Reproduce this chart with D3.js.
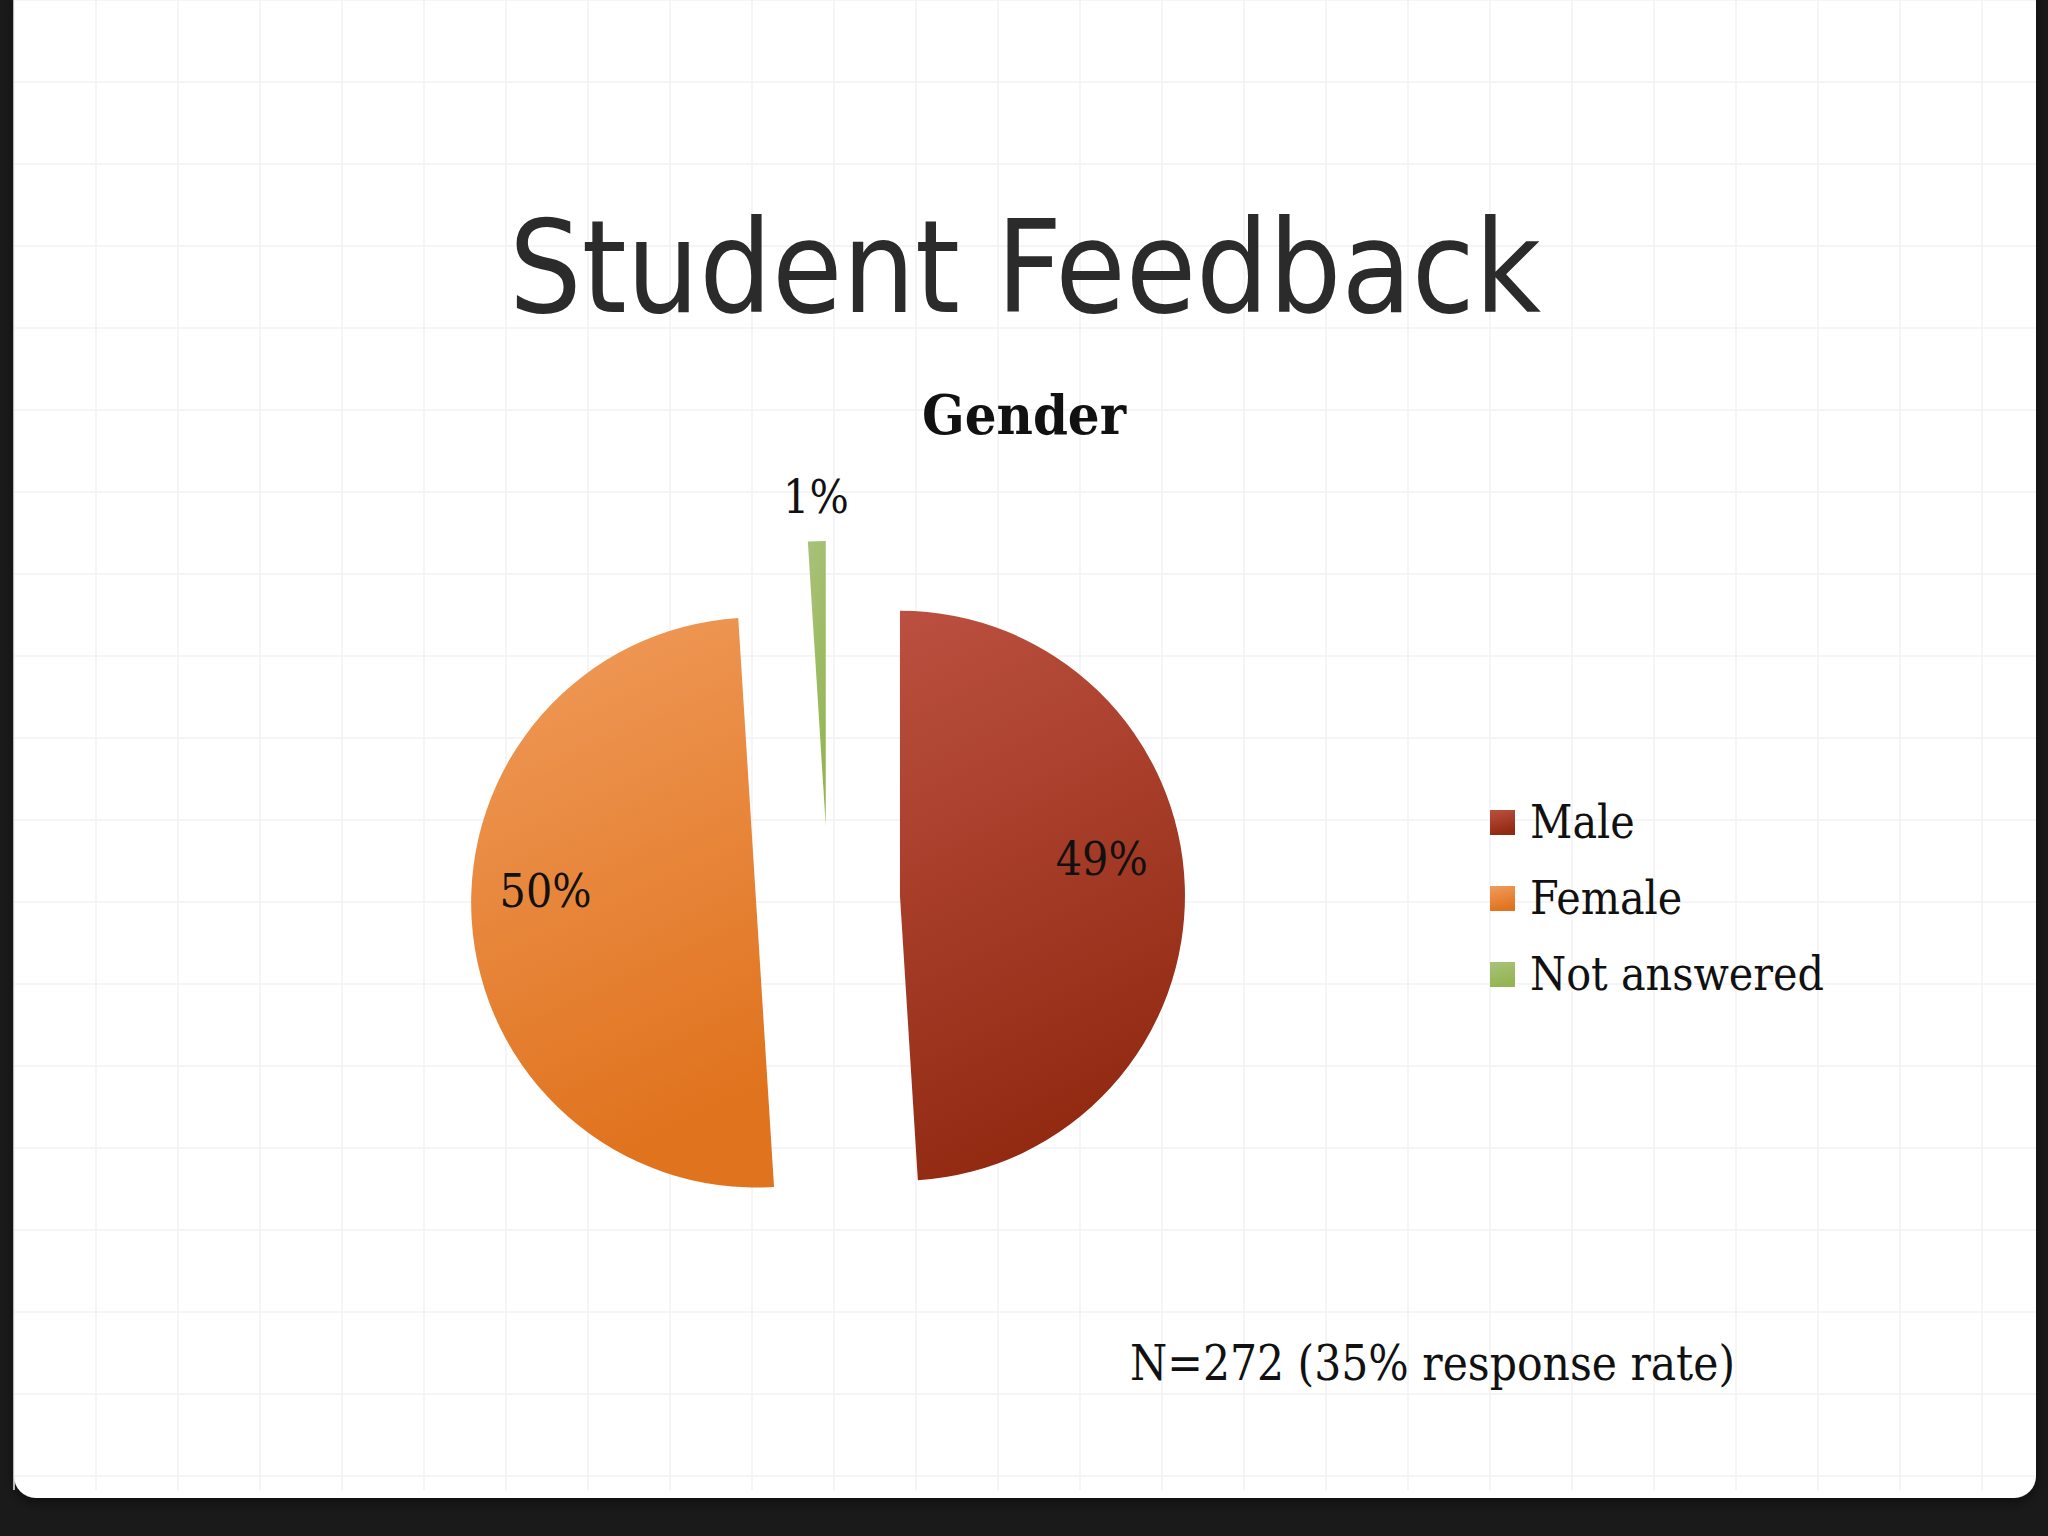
<!DOCTYPE html>
<html><head><meta charset="utf-8">
<script src="https://cdn.jsdelivr.net/npm/d3@7"></script>
<style>html,body{margin:0;padding:0;background:#1a1a1a;overflow:hidden}</style>
</head><body>
<svg id="c" width="2048" height="1536"></svg>
<script>
const categories = ["Male", "Female", "Not answered"];
const values = [49, 50, 1];
const labels = ["49%", "50%", "1%"];
const colorsTop = ["#bb5040", "#f09c5c", "#a8c27a"];
const colorsBot = ["#922a12", "#e0731e", "#94b552"];

const svg = d3.select("#c");
const defs = svg.append("defs");
const sh = defs.append("filter").attr("id","sh").attr("x","-5%").attr("y","-5%").attr("width","110%").attr("height","110%");
sh.append("feDropShadow").attr("dx",0).attr("dy",4).attr("stdDeviation",6).attr("flood-color","#000").attr("flood-opacity",0.5);

// slide
svg.append("rect").attr("x",14).attr("y",-20).attr("width",2022).attr("height",1518).attr("rx",22)
  .attr("fill","#ffffff").attr("filter","url(#sh)");
const grid = svg.append("g").attr("stroke","#f2f2f4").attr("stroke-width",1.5);
d3.range(14, 2036, 82).forEach(x=>grid.append("line").attr("x1",x).attr("x2",x).attr("y1",0).attr("y2",1490));
d3.range(0, 1490, 82).forEach(y=>grid.append("line").attr("x1",14).attr("x2",2036).attr("y1",y).attr("y2",y));

// title
svg.append("text").attr("x",1025).attr("y",312).attr("text-anchor","middle")
  .attr("font-family","'DejaVu Sans Condensed', 'Open Sans', sans-serif").attr("font-size",128)
  .attr("textLength",1032).attr("lengthAdjust","spacingAndGlyphs")
  .attr("fill","#2b2b2b").text("Student Feedback");
svg.append("text").attr("x",1024).attr("y",434).attr("text-anchor","middle")
  .attr("font-family","'DejaVu Serif Condensed', 'Liberation Serif', serif").attr("font-weight","bold").attr("font-size",54)
  .attr("textLength",204).attr("lengthAdjust","spacingAndGlyphs")
  .attr("fill","#111").text("Gender");

// pie
const cx = 828, cy = 898, R = 285, explode = 72;
const pie = d3.pie().sort(null).value(d=>d)(values);
const arc = d3.arc().innerRadius(0).outerRadius(R);
pie.forEach((p,i)=>{
  const g = defs.append("linearGradient").attr("id","g"+i).attr("x1",0).attr("y1",0).attr("x2",0.25).attr("y2",1);
  g.append("stop").attr("offset","0%").attr("stop-color",colorsTop[i]);
  g.append("stop").attr("offset","100%").attr("stop-color",colorsBot[i]);
});
const gp = svg.append("g").attr("transform",`translate(${cx},${cy})`);
const labelR = [0.72, 0.74, 1.0];
const labelAng = [-0.15, 0.12, 0];
pie.forEach((p,i)=>{
  const mid = (p.startAngle+p.endAngle)/2;
  const ex = explode*Math.sin(mid), ey = -explode*Math.cos(mid);
  const s = gp.append("g").attr("transform",`translate(${ex},${ey})`);
  s.append("path").attr("d",arc(p)).attr("fill",`url(#g${i})`);
  const a = mid + labelAng[i], r = R*labelR[i] + (i===2?28:0);
  s.append("text").attr("x", r*Math.sin(a)).attr("y", -r*Math.cos(a)).attr("dy", i===2?"0":"0.35em")
    .attr("text-anchor","middle").attr("font-family","'DejaVu Serif Condensed', 'Liberation Serif', serif")
    .attr("font-size",46).attr("fill","#111").text(labels[i]);
});

// legend
const lg = svg.append("g").attr("transform","translate(1490,822)");
categories.forEach((c,i)=>{
  const row = lg.append("g").attr("transform",`translate(0,${i*76})`);
  row.append("rect").attr("x",0).attr("y",-12).attr("width",25).attr("height",25).attr("fill",`url(#g${i})`);
  row.append("text").attr("x",40).attr("y",0).attr("dy","0.35em").attr("font-family","'DejaVu Serif Condensed', 'Liberation Serif', serif")
    .attr("font-size",46).attr("fill","#111").text(c);
});

svg.append("text").attr("x",1130).attr("y",1380).attr("font-family","'DejaVu Serif Condensed', 'Liberation Serif', serif")
  .attr("font-size",48).attr("textLength",605).attr("lengthAdjust","spacingAndGlyphs").attr("fill","#111")
  .text("N=272 (35% response rate)");
</script>
</body></html>
